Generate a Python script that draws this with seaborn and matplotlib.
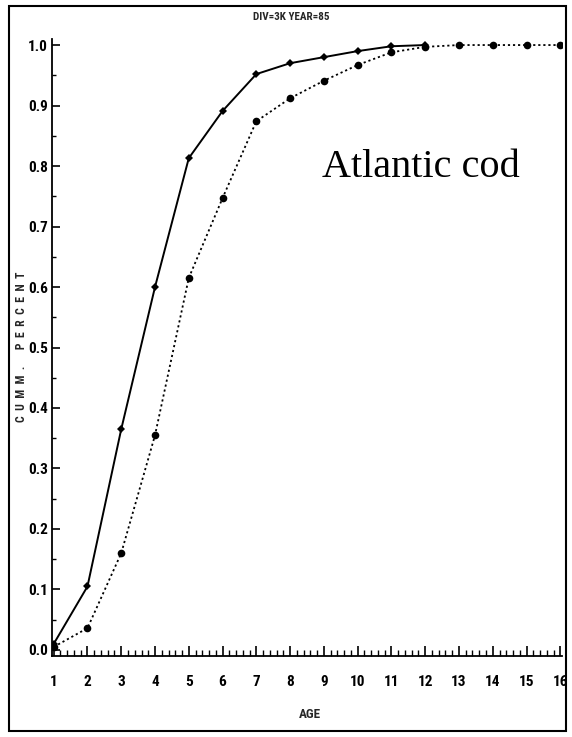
import matplotlib
matplotlib.use("Agg")
import matplotlib.pyplot as plt
from matplotlib.patches import Rectangle
from matplotlib.ticker import MultipleLocator
import seaborn as sns
import pandas as pd

# ---- data ----
ages_solid = [1, 2, 3, 4, 5, 6, 7, 8, 9, 10, 11, 12]
cum_solid = [0.01, 0.105, 0.365, 0.60, 0.813, 0.891, 0.952, 0.970, 0.980, 0.990, 0.998, 1.0]
ages_dotted = [1, 2, 3, 4, 5, 6, 7, 8, 9, 10, 11, 12, 13, 14, 15, 16]
cum_dotted = [0.005, 0.036, 0.16, 0.355, 0.615, 0.747, 0.874, 0.912, 0.941, 0.967,
              0.988, 0.997, 1.0, 1.0, 1.0, 1.0]
x_ticks = list(range(1, 17))
y_ticks = [0.0, 0.1, 0.2, 0.3, 0.4, 0.5, 0.6, 0.7, 0.8, 0.9, 1.0]
title = "DIV=3K YEAR=85"
x_label = "AGE"
y_label = "C  U  M  M  .      P  E  R  C  E  N  T"
annotation = "Atlantic cod"

sns.set_theme(style="white")
FAM = ['Roboto Condensed', 'Liberation Sans Narrow', 'DejaVu Sans']
plt.rcParams['font.family'] = FAM
plt.rcParams['font.stretch'] = 'condensed'

W, H = 572, 737
fig = plt.figure(figsize=(W / 100, H / 100), dpi=100)
fig.patch.set_facecolor("white")

# outer frame
fig.patches.append(Rectangle((9 / W, (H - 731) / H), (566 - 9) / W, (731 - 6) / H,
                             transform=fig.transFigure, fill=False,
                             edgecolor="black", linewidth=1.5))

ax = fig.add_axes([52 / W, (H - 656) / H, (562 - 52) / W, (656 - 39) / H])
ax.set_facecolor("white")

df_s = pd.DataFrame({"age": ages_solid, "cum": cum_solid})
df_d = pd.DataFrame({"age": ages_dotted, "cum": cum_dotted})

sns.lineplot(data=df_d, x="age", y="cum", ax=ax, color="black", linestyle=(0, (1.2, 1.6)),
             linewidth=1.3, marker="o", markersize=5.5, markeredgewidth=0,
             markerfacecolor="black", estimator=None, sort=False)
sns.lineplot(data=df_s, x="age", y="cum", ax=ax, color="black", linestyle="-",
             linewidth=1.4, marker="D", markersize=4, markeredgewidth=0,
             markerfacecolor="black", estimator=None, sort=False)

ax.set_xlim(0.95, 16.05)
ax.set_ylim(-0.01, 1.01)
ax.set_xticks(x_ticks)
ax.set_xticklabels([str(t) for t in x_ticks])
ax.set_yticks(y_ticks)
ax.set_yticklabels([f"{t:.1f}" for t in y_ticks])
ax.xaxis.set_minor_locator(MultipleLocator(0.2))
ax.yaxis.set_minor_locator(MultipleLocator(0.05))

for s in ["top", "right"]:
    ax.spines[s].set_visible(False)
for s in ["left", "bottom"]:
    ax.spines[s].set_color("black")
    ax.spines[s].set_linewidth(1.3)

ax.tick_params(axis="x", which="major", direction="in", length=7, width=1.2,
               pad=14, labelsize=11, colors="black", bottom=True)
ax.tick_params(axis="x", which="minor", direction="in", length=4, width=1.0,
               colors="black", bottom=True)
ax.tick_params(axis="y", which="major", direction="in", length=6, width=1.2,
               pad=3, labelsize=11, colors="black", left=True)
ax.tick_params(axis="y", which="minor", direction="in", length=3, width=1.0,
               colors="black", left=True)
for lbl in ax.get_xticklabels() + ax.get_yticklabels():
    lbl.set_fontweight("bold")
    lbl.set_fontstretch("condensed")

ax.set_xlabel("")
ax.set_ylabel("")
fig.text(310 / W, 1 - 715 / H, x_label, ha="center", va="center",
         fontsize=9.5, fontweight="bold", fontstretch="condensed")
fig.text(22 / W, 1 - 347 / H, y_label, ha="center", va="center", rotation=90,
         fontsize=8.5, fontweight="bold", fontstretch="condensed")
fig.text(291 / W, 1 - 17 / H, title, ha="center", va="center",
         fontsize=8, fontweight="bold", fontstretch="condensed")
fig.text(322 / W, 1 - 177 / H, annotation, ha="left", va="baseline",
         fontsize=29, family="Liberation Serif", color="black")

fig.savefig("out.png", dpi=100, facecolor="white")
